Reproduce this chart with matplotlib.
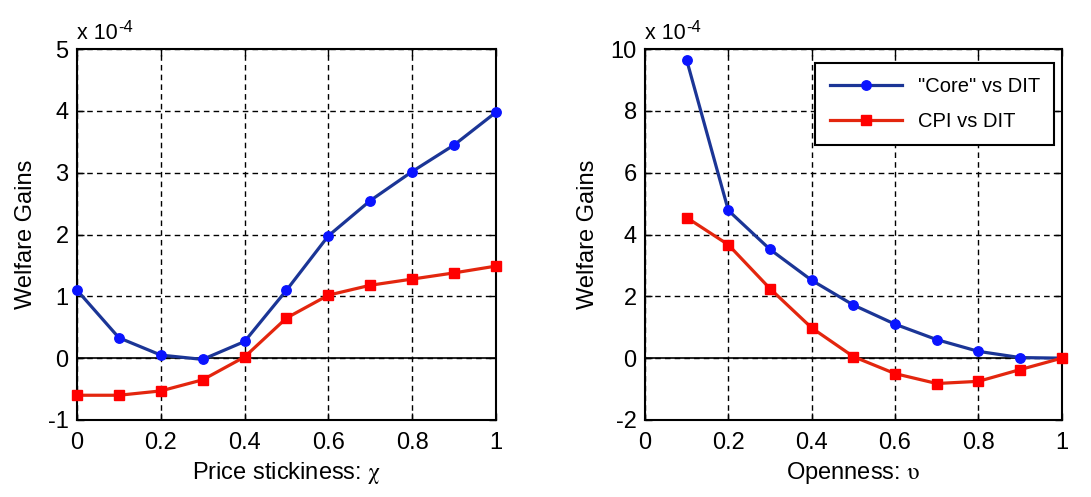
import matplotlib
matplotlib.use("Agg")
import matplotlib.pyplot as plt
from matplotlib.transforms import offset_copy

plt.rcParams['font.family'] = ['Liberation Sans', 'DejaVu Sans']
plt.rcParams['mathtext.fontset'] = 'stix'
plt.rcParams['axes.unicode_minus'] = False

# Left panel: price stickiness
x_left = [0.0, 0.1, 0.2, 0.3, 0.4, 0.5, 0.6, 0.7, 0.8, 0.9, 1.0]
core_left = [1.10, 0.33, 0.05, -0.02, 0.27, 1.10, 1.98, 2.55, 3.02, 3.45, 3.98]
cpi_left = [-0.60, -0.60, -0.53, -0.35, 0.02, 0.65, 1.02, 1.18, 1.28, 1.38, 1.49]

# Right panel: openness
x_right = [0.1, 0.2, 0.3, 0.4, 0.5, 0.6, 0.7, 0.8, 0.9, 1.0]
core_right = [9.65, 4.78, 3.52, 2.52, 1.72, 1.10, 0.60, 0.22, 0.02, 0.00]
cpi_right = [4.55, 3.67, 2.25, 0.98, 0.05, -0.50, -0.82, -0.75, -0.37, 0.00]

xticks = [0, 0.2, 0.4, 0.6, 0.8, 1]
xticklabels = ['0', '0.2', '0.4', '0.6', '0.8', '1']

series_labels = ['"Core" vs DIT', 'CPI vs DIT']

BLUE_LINE = '#1b3596'
BLUE_MK = '#0a14ff'
RED_LINE = '#e3260e'
RED_MK = '#ff0000'

fig = plt.figure(figsize=(10.91, 4.97), dpi=100)
axL = fig.add_axes([0.0706, 0.155, 0.384, 0.746])
axR = fig.add_axes([0.5912, 0.155, 0.382, 0.746])

FS = 17

def style(ax, ylim, yticks, xlabel):
    ax.set_xlim(0, 1)
    ax.set_ylim(*ylim)
    ax.set_xticks(xticks)
    ax.set_xticklabels(xticklabels)
    ax.set_yticks(yticks)
    ax.set_yticklabels([str(v) for v in yticks])
    ax.grid(True, color='black', linestyle=(0, (4, 3)), linewidth=1.0)
    ax.axhline(0, color='black', linewidth=1.2, zorder=1.5)
    ax.tick_params(direction='in', length=5, width=1, labelsize=FS, top=True, right=True)
    ax.tick_params(axis='x', pad=9)
    ax.tick_params(axis='y', pad=6)
    for s in ax.spines.values():
        s.set_linewidth(1.5)
    ax.set_ylabel('Welfare Gains', fontsize=FS, labelpad=8)
    ax.set_xlabel(xlabel, fontsize=FS, labelpad=4)
    t = ax.text(0.0, 1.015, 'x 10', transform=ax.transAxes,
                fontsize=15.5, ha='left', va='bottom')
    fig.canvas.draw()
    bb = t.get_window_extent().transformed(ax.transAxes.inverted())
    ax.text(bb.x1 + 0.002, 1.015, '-4', transform=offset_copy(ax.transAxes, fig=fig, x=0, y=9, units='dots'),
            fontsize=12, ha='left', va='bottom')

def plot(ax, x, core, cpi):
    ax.plot(x, core, color=BLUE_LINE, linewidth=2.3, marker='o', markersize=6.8,
            markerfacecolor=BLUE_MK, markeredgecolor=BLUE_MK, label=series_labels[0],
            zorder=3, clip_on=False)
    ax.plot(x, cpi, color=RED_LINE, linewidth=2.3, marker='s', markersize=7.8,
            markerfacecolor=RED_MK, markeredgecolor=RED_MK, label=series_labels[1],
            zorder=3, clip_on=False)

plot(axL, x_left, core_left, cpi_left)
style(axL, (-1, 5), [-1, 0, 1, 2, 3, 4, 5], r'Price stickiness: $\mathrm{\chi}$')

plot(axR, x_right, core_right, cpi_right)
style(axR, (-2, 10), [-2, 0, 2, 4, 6, 8, 10], r'Openness: $\mathrm{\upsilon}$')

leg = axR.legend(loc='upper right', bbox_to_anchor=(0.9825, 0.9625), fontsize=14.5,
                 frameon=True, fancybox=False, edgecolor='black', framealpha=1,
                 borderpad=0.7, handlelength=3.6, labelspacing=0.8, handletextpad=0.8,
                 borderaxespad=0.0)
leg.get_frame().set_linewidth(1.5)

fig.savefig('out.png', dpi=100)
